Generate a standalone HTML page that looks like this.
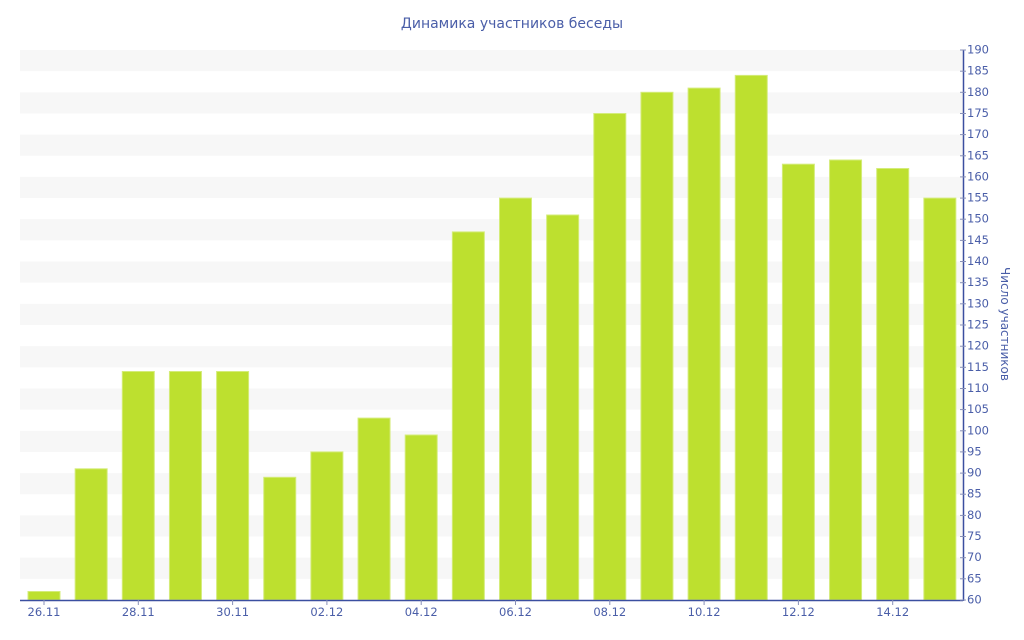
<!DOCTYPE html>
<html><head><meta charset="utf-8"><style>
html,body{margin:0;padding:0;background:#fff;}
svg{display:block;font-family:"DejaVu Sans","Liberation Sans",sans-serif;}
</style></head><body>
<svg width="1024" height="640" xmlns="http://www.w3.org/2000/svg">
<text x="512" y="28" text-anchor="middle" font-size="14" fill="#4a5ea8">Динамика участников беседы</text>
<g fill="#f7f7f7">
<rect x="20" y="50" width="943" height="21.15"/>
<rect x="20" y="92.3" width="943" height="21.15"/>
<rect x="20" y="134.6" width="943" height="21.15"/>
<rect x="20" y="176.9" width="943" height="21.15"/>
<rect x="20" y="219.2" width="943" height="21.15"/>
<rect x="20" y="261.5" width="943" height="21.15"/>
<rect x="20" y="303.8" width="943" height="21.15"/>
<rect x="20" y="346.2" width="943" height="21.15"/>
<rect x="20" y="388.5" width="943" height="21.15"/>
<rect x="20" y="430.8" width="943" height="21.15"/>
<rect x="20" y="473.1" width="943" height="21.15"/>
<rect x="20" y="515.4" width="943" height="21.15"/>
<rect x="20" y="557.7" width="943" height="21.15"/>
</g>
<g fill="#bde02f" stroke="#d4ec7a" stroke-width="1">
<rect x="28" y="591.5" width="32" height="8.5"/>
<rect x="75.15" y="468.8" width="32" height="131.2"/>
<rect x="122.3" y="371.5" width="32" height="228.5"/>
<rect x="169.45" y="371.5" width="32" height="228.5"/>
<rect x="216.6" y="371.5" width="32" height="228.5"/>
<rect x="263.75" y="477.3" width="32" height="122.7"/>
<rect x="310.9" y="451.9" width="32" height="148.1"/>
<rect x="358.05" y="418.1" width="32" height="181.9"/>
<rect x="405.2" y="435" width="32" height="165"/>
<rect x="452.35" y="231.9" width="32" height="368.1"/>
<rect x="499.5" y="198.1" width="32" height="401.9"/>
<rect x="546.65" y="215" width="32" height="385"/>
<rect x="593.8" y="113.5" width="32" height="486.5"/>
<rect x="640.95" y="92.3" width="32" height="507.7"/>
<rect x="688.1" y="88.1" width="32" height="511.9"/>
<rect x="735.25" y="75.4" width="32" height="524.6"/>
<rect x="782.4" y="164.2" width="32" height="435.8"/>
<rect x="829.55" y="160" width="32" height="440"/>
<rect x="876.7" y="168.5" width="32" height="431.5"/>
<rect x="923.85" y="198.1" width="32" height="401.9"/>
</g>
<line x1="20" y1="600.5" x2="963" y2="600.5" stroke="#3b4fa0" stroke-width="1.5"/>
<line x1="963.5" y1="50" x2="963.5" y2="601" stroke="#3b4fa0" stroke-width="1.5"/>
<g stroke="#8890b8" stroke-width="1">
<line x1="44" y1="600" x2="44" y2="605"/><line x1="138.3" y1="600" x2="138.3" y2="605"/><line x1="232.6" y1="600" x2="232.6" y2="605"/><line x1="326.9" y1="600" x2="326.9" y2="605"/><line x1="421.2" y1="600" x2="421.2" y2="605"/><line x1="515.5" y1="600" x2="515.5" y2="605"/><line x1="609.8" y1="600" x2="609.8" y2="605"/><line x1="704.1" y1="600" x2="704.1" y2="605"/><line x1="798.4" y1="600" x2="798.4" y2="605"/><line x1="892.7" y1="600" x2="892.7" y2="605"/>
</g>
<g font-size="11.5" fill="#4a5ea8" text-anchor="middle">
<text x="44" y="616">26.11</text><text x="138.3" y="616">28.11</text><text x="232.6" y="616">30.11</text><text x="326.9" y="616">02.12</text><text x="421.2" y="616">04.12</text><text x="515.5" y="616">06.12</text><text x="609.8" y="616">08.12</text><text x="704.1" y="616">10.12</text><text x="798.4" y="616">12.12</text><text x="892.7" y="616">14.12</text>
</g>
<g stroke="#8890b8" stroke-width="1">
<line x1="960" y1="600" x2="966" y2="600"/><line x1="960" y1="578.8" x2="966" y2="578.8"/><line x1="960" y1="557.7" x2="966" y2="557.7"/><line x1="960" y1="536.5" x2="966" y2="536.5"/><line x1="960" y1="515.4" x2="966" y2="515.4"/><line x1="960" y1="494.2" x2="966" y2="494.2"/><line x1="960" y1="473.1" x2="966" y2="473.1"/><line x1="960" y1="451.9" x2="966" y2="451.9"/><line x1="960" y1="430.8" x2="966" y2="430.8"/><line x1="960" y1="409.6" x2="966" y2="409.6"/><line x1="960" y1="388.5" x2="966" y2="388.5"/><line x1="960" y1="367.3" x2="966" y2="367.3"/><line x1="960" y1="346.2" x2="966" y2="346.2"/><line x1="960" y1="325" x2="966" y2="325"/><line x1="960" y1="303.8" x2="966" y2="303.8"/><line x1="960" y1="282.7" x2="966" y2="282.7"/><line x1="960" y1="261.5" x2="966" y2="261.5"/><line x1="960" y1="240.4" x2="966" y2="240.4"/><line x1="960" y1="219.2" x2="966" y2="219.2"/><line x1="960" y1="198.1" x2="966" y2="198.1"/><line x1="960" y1="176.9" x2="966" y2="176.9"/><line x1="960" y1="155.8" x2="966" y2="155.8"/><line x1="960" y1="134.6" x2="966" y2="134.6"/><line x1="960" y1="113.5" x2="966" y2="113.5"/><line x1="960" y1="92.3" x2="966" y2="92.3"/><line x1="960" y1="71.2" x2="966" y2="71.2"/><line x1="960" y1="50" x2="966" y2="50"/>
</g>
<g font-size="11.5" fill="#4a5ea8" dominant-baseline="middle">
<text x="967" y="600">60</text><text x="967" y="578.8">65</text><text x="967" y="557.7">70</text><text x="967" y="536.5">75</text><text x="967" y="515.4">80</text><text x="967" y="494.2">85</text><text x="967" y="473.1">90</text><text x="967" y="451.9">95</text><text x="967" y="430.8">100</text><text x="967" y="409.6">105</text><text x="967" y="388.5">110</text><text x="967" y="367.3">115</text><text x="967" y="346.2">120</text><text x="967" y="325">125</text><text x="967" y="303.8">130</text><text x="967" y="282.7">135</text><text x="967" y="261.5">140</text><text x="967" y="240.4">145</text><text x="967" y="219.2">150</text><text x="967" y="198.1">155</text><text x="967" y="176.9">160</text><text x="967" y="155.8">165</text><text x="967" y="134.6">170</text><text x="967" y="113.5">175</text><text x="967" y="92.3">180</text><text x="967" y="71.2">185</text><text x="967" y="50">190</text>
</g>
<text x="1001" y="324" font-size="12" fill="#4a5ea8" text-anchor="middle" transform="rotate(90 1001 324)">Число участников</text>
</svg>
</body></html>
